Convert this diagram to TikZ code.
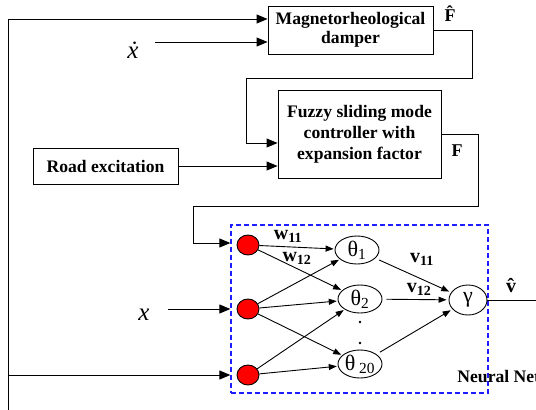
\documentclass[tikz,border=0pt]{standalone}
\usepackage{fontspec}
\setmainfont{Liberation Serif}
\usetikzlibrary{arrows.meta,shapes.geometric}
\definecolor{nnblue}{RGB}{30,30,255}
\begin{document}
\begin{tikzpicture}[x=1pt,y=-1pt,
  line width=0.9pt,
  bigtip/.style={-{Triangle[length=11pt,width=9pt]}},
  smalltip/.style={-{Triangle[length=8pt,width=6pt]}},
  blockbox/.style={draw, line width=0.9pt, align=center, inner sep=0pt, font=\bfseries\fontsize{17.6}{21}\selectfont},
  inode/.style={ellipse, draw, fill=red, minimum width=22pt, minimum height=20pt, inner sep=0pt, line width=0.9pt},
  hnode/.style={ellipse, draw, minimum width=44pt, minimum height=28pt, inner sep=0pt, font=\fontsize{22}{23}\selectfont},
  wlabel/.style={font=\bfseries\fontsize{20}{22}\selectfont, inner sep=0pt},
  sig/.style={font=\bfseries\fontsize{18}{20}\selectfont, inner sep=0pt, anchor=base},
  var/.style={font=\itshape\fontsize{25}{27}\selectfont, inner sep=0pt, anchor=base},
]
\useasboundingbox (0,0) rectangle (536,410);
\clip (0,0) rectangle (536,410);

% blocks
\node[blockbox, minimum width=165pt, minimum height=48pt, font=\bfseries\fontsize{17.6}{19}\selectfont] (mag) at (350.5,30) {Magnetorheological\\damper};
\node[blockbox, minimum width=163pt, minimum height=88pt] (fuz) at (359.5,134) {Fuzzy sliding mode\\controller with\\expansion factor};
\node[blockbox, minimum width=145pt, minimum height=36pt] (road) at (105.5,166) {Road excitation};

% neural network
\node[draw=nnblue, dash pattern=on 5pt off 3pt, line width=1.3pt, minimum width=257pt, minimum height=168pt, inner sep=0pt] (nnbox) at (359.5,309) {};
\node[inode] (in1) at (248,245) {};
\node[inode] (in2) at (248,309) {};
\node[inode] (in3) at (248,375) {};
\node[hnode] (h1) at (357,250) {θ\textsubscript{1}};
\node[hnode] (h2) at (360,299) {θ\textsubscript{2}};
\node[hnode] (h3) at (360,364) {θ\,\textsubscript{20}};
\node[ellipse, draw, minimum width=38pt, minimum height=30pt, inner sep=0pt, font=\fontsize{22}{23}\selectfont] (g) at (468,300) {γ};
\fill (360,322) circle (1.3pt);
\fill (360,343) circle (1.3pt);

\foreach \a/\b in {in1/h1,in1/h2,in2/h1,in2/h2,in2/h3,in3/h2,in3/h3}
  \draw[smalltip, shorten >=1pt] (\a) -- (\b);
\foreach \h in {h1,h2,h3}
  \draw[smalltip, shorten <=4pt, shorten >=2pt] (\h) -- (g);

% labels
\node[wlabel] (w11) at (288,236) {w\textsubscript{11}};
\node[wlabel] (w12) at (297,258) {w\textsubscript{12}};
\node[wlabel] (v11) at (422,259) {v\textsubscript{11}};
\node[wlabel] (v12) at (419,289) {v\textsubscript{12}};
\node[sig, font=\bfseries\fontsize{20}{22}\selectfont] (vhat) at (511,292) {\^{v}};
\node[sig] (Fhat) at (450,21) {\^{F}};
\node[sig] (Flab) at (457,156) {F};
\node[var] (xdot) at (133,58) {\.{x}};
\node[var] (xvar) at (144,320) {x};
\node[anchor=base west, font=\bfseries\fontsize{17.6}{20}\selectfont, inner sep=0pt] (nnlabel) at (457,382) {Neural Net};

% coordinates
\coordinate (lb) at (8,420);
\coordinate (lt) at (8,19);
\coordinate (lj) at (8,375);
\coordinate (xs) at (155,42);
\coordinate (xs2) at (168,309);
\coordinate (a1) at (472,78);
\coordinate (a2) at (246,143);
\coordinate (b1) at (478,206);
\coordinate (b2) at (193,243);
\coordinate (go) at (540,300);

% connectors
\draw[bigtip] (lb) -- (lt) -- (lt -| mag.west);
\draw[bigtip] (lj) -- (lj -| nnbox.west);
\draw[bigtip] (xs) -- (xs -| mag.west);
\draw[bigtip] (xs2) -- (xs2 -| nnbox.west);
\draw[bigtip] (mag.east) -| (a1) -| (a2) -- (a2 -| fuz.west);
\draw[bigtip] (road.east) -- (road.east -| fuz.west);
\draw[bigtip] (fuz.east) -| (b1) -| (b2) -- (b2 -| nnbox.west);
\draw (g.east) -- (go);
\end{tikzpicture}
\end{document}
